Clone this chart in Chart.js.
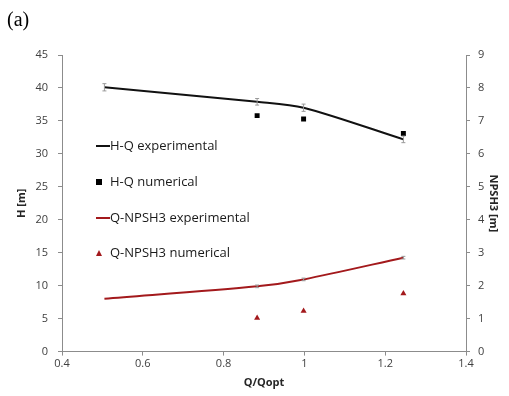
<!DOCTYPE html>
<html>
<head>
<meta charset="utf-8">
<script src="https://cdn.jsdelivr.net/npm/chart.js@4.4.1/dist/chart.umd.min.js"></script>
<style>
  html, body { margin: 0; padding: 0; background: #fff; }
  #wrap { position: relative; width: 509px; height: 396px; }
</style>
</head>
<body>
<div id="wrap"><canvas id="chart"></canvas></div>
<script>
// #### Data
const qExp = [0.505, 0.883, 0.998, 1.245];
const hExp = [40.1, 37.9, 37.0, 32.2];
const hErr = [0.55, 0.5, 0.55, 0.5];
const qNum = [0.883, 0.998, 1.245];
const hNum = [35.8, 35.3, 33.1];
const npshExp = [1.6, 1.98, 2.19, 2.85];
const npshErr = [0, 0.04, 0.04, 0.04];
const npshNum = [1.02, 1.23, 1.76];
const xTicks = [0.4, 0.6, 0.8, 1.0, 1.2, 1.4];

const darkRed = '#a3191c';
const axisGrey = '#8c8c8c';
const tickFont = { family: 'Open Sans', size: 11 };

function pts(xs, ys) {
    return xs.map((x, i) => ({ x: x, y: ys[i] }));
}

// draw whiskers for datasets that carry an "errors" array
const errorBars = {
    id: 'errorBars',
    afterDatasetsDraw(chart) {
        const ctx = chart.ctx;
        chart.data.datasets.forEach((ds, i) => {
            if (!ds.errors) return;
            const meta = chart.getDatasetMeta(i);
            const yScale = chart.scales[ds.yAxisID];
            ctx.save();
            ctx.strokeStyle = '#9a9a9a';
            ctx.lineWidth = 1;
            meta.data.forEach((p, j) => {
                const e = ds.errors[j];
                if (!e) return;
                const v = ds.data[j].y;
                const y1 = yScale.getPixelForValue(v + e);
                const y2 = yScale.getPixelForValue(v - e);
                ctx.beginPath();
                ctx.moveTo(p.x, y1); ctx.lineTo(p.x, y2);
                ctx.moveTo(p.x - 2, y1); ctx.lineTo(p.x + 2, y1);
                ctx.moveTo(p.x - 2, y2); ctx.lineTo(p.x + 2, y2);
                ctx.stroke();
            });
            ctx.restore();
        });
    }
};

// legend drawn inside the plot area, one entry per row
const insideLegend = {
    id: 'insideLegend',
    afterDraw(chart) {
        const ctx = chart.ctx;
        const area = chart.chartArea;
        const x0 = area.left + 34;
        const rows = [area.top + 91, area.top + 127, area.top + 163, area.top + 198];
        ctx.save();
        ctx.font = '13px "Open Sans"';
        ctx.textBaseline = 'middle';
        chart.data.datasets.forEach((ds, i) => {
            const y = rows[i];
            let tx;
            if (ds.showLine) {
                ctx.strokeStyle = ds.borderColor;
                ctx.lineWidth = 2;
                ctx.beginPath();
                ctx.moveTo(x0, y); ctx.lineTo(x0 + 14, y);
                ctx.stroke();
                tx = x0 + 14;
            } else {
                ctx.fillStyle = ds.backgroundColor;
                ctx.beginPath();
                if (ds.pointStyle === 'triangle') {
                    ctx.moveTo(x0 + 3, y - 3); ctx.lineTo(x0 + 6, y + 3); ctx.lineTo(x0, y + 3);
                } else {
                    ctx.rect(x0, y - 3, 6, 6);
                }
                ctx.fill();
                tx = x0 + 14;
            }
            ctx.fillStyle = '#1a1a1a';
            ctx.fillText(ds.label, tx, y);
        });
        ctx.restore();
    }
};

const chart = new Chart(document.getElementById('chart'), {
    type: 'scatter',
    data: {
        datasets: [
            {
                label: 'H-Q experimental',
                data: pts(qExp, hExp),
                errors: hErr,
                yAxisID: 'yH',
                showLine: true,
                borderColor: '#111111',
                backgroundColor: '#111111',
                borderWidth: 2,
                pointRadius: 0,
                tension: 0.3
            },
            {
                label: 'H-Q numerical',
                data: pts(qNum, hNum),
                yAxisID: 'yH',
                pointStyle: 'rect',
                pointRadius: 3.5,
                borderWidth: 0,
                backgroundColor: '#000000',
                borderColor: '#000000'
            },
            {
                label: 'Q-NPSH3 experimental',
                data: pts(qExp, npshExp),
                errors: npshErr,
                yAxisID: 'yN',
                showLine: true,
                borderColor: darkRed,
                backgroundColor: darkRed,
                borderWidth: 2,
                pointRadius: 0,
                tension: 0.3
            },
            {
                label: 'Q-NPSH3 numerical',
                data: pts(qNum, npshNum),
                yAxisID: 'yN',
                pointStyle: 'triangle',
                pointRadius: 3.5,
                borderWidth: 0,
                backgroundColor: darkRed,
                borderColor: darkRed
            }
        ]
    },
    options: {
        responsive: true,
        maintainAspectRatio: false,
        animation: false,
        layout: { padding: { top: 4, right: 0, bottom: 7, left: 7 } },
        scales: {
            x: {
                type: 'linear',
                min: 0.4,
                max: 1.4,
                afterBuildTicks: axis => { axis.ticks = xTicks.map(v => ({ value: v })); },
                ticks: {
                    color: '#404040',
                    font: tickFont,
                    padding: 2,
                    callback: v => String(Math.round(v * 10) / 10)
                },
                grid: { drawOnChartArea: false, color: axisGrey, tickLength: 4 },
                border: { color: axisGrey },
                title: {
                    display: true,
                    text: 'Q/Qopt',
                    color: '#262626',
                    font: { family: 'Open Sans', size: 11, weight: 'bold' },
                    padding: { top: 3, bottom: 0 }
                }
            },
            yH: {
                position: 'left',
                min: 0,
                max: 45,
                ticks: { stepSize: 5, color: '#404040', font: tickFont, padding: 10 },
                grid: { drawOnChartArea: false, color: axisGrey, tickLength: 4 },
                border: { color: axisGrey },
                title: {
                    display: true,
                    text: 'H [m]',
                    color: '#262626',
                    font: { family: 'Open Sans', size: 11, weight: 'bold' },
                    padding: { top: 8, bottom: 0 }
                },
                afterFit: axis => { axis.width = 55; }
            },
            yN: {
                position: 'right',
                min: 0,
                max: 9,
                ticks: { stepSize: 1, color: '#404040', font: tickFont, padding: 8 },
                grid: { drawOnChartArea: false, color: axisGrey, tickLength: 4 },
                border: { color: axisGrey },
                title: {
                    display: true,
                    text: 'NPSH3 [m]',
                    color: '#262626',
                    font: { family: 'Open Sans', size: 11, weight: 'bold' },
                    padding: { top: 9, bottom: 0 }
                },
                afterFit: axis => { axis.width = 43; }
            }
        },
        plugins: {
            legend: { display: false },
            tooltip: { enabled: false },
            title: {
                display: true,
                text: '(a)',
                align: 'start',
                color: '#000000',
                font: { family: 'Liberation Serif', size: 20, weight: 'normal' },
                padding: { top: 5, bottom: 22 }
            }
        }
    },
    plugins: [errorBars, insideLegend]
});
</script>
</body>
</html>
